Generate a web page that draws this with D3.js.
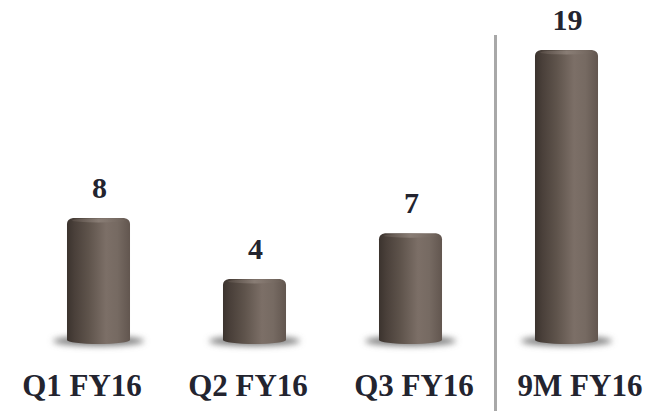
<!DOCTYPE html>
<html>
<head>
<meta charset="utf-8">
<script src="https://cdn.jsdelivr.net/npm/d3@7"></script>
<style>
  body { margin: 0; background: #fff; }
  text { font-family: "Liberation Serif", serif; font-weight: bold; fill: #23242f; }
</style>
</head>
<body>
<script>
const categories = ['Q1 FY16', 'Q2 FY16', 'Q3 FY16', '9M FY16']
const values = [8, 4, 7, 19]
const yMax = 19

const width = 661
const height = 411
const base = 340

const svg = d3.select('body').append('svg')
  .attr('width', width)
  .attr('height', height)

const defs = svg.append('defs')

// cylinder body shading
const body = defs.append('linearGradient').attr('id', 'body')
body.selectAll('stop')
  .data([[0, '#3b332e'], [0.12, '#4a403a'], [0.35, '#5f544c'], [0.62, '#7c6f67'], [0.8, '#766a62'], [1, '#62564f']])
  .enter().append('stop')
  .attr('offset', d => d[0])
  .attr('stop-color', d => d[1])

const cap = defs.append('linearGradient').attr('id', 'cap')
cap.selectAll('stop')
  .data([[0, '#5a4f48'], [0.5, '#8f837b'], [1, '#6e625a']])
  .enter().append('stop')
  .attr('offset', d => d[0])
  .attr('stop-color', d => d[1])

defs.append('filter').attr('id', 'blur')
  .attr('x', '-50%').attr('y', '-100%').attr('width', '200%').attr('height', '300%')
  .append('feGaussianBlur').attr('stdDeviation', 3)

const x = d3.scaleBand()
  .domain(categories)
  .range([20.5, 644.5])
  .paddingInner(0.596)
  .paddingOuter(0.298)

const labelX = d3.scalePoint()
  .domain(categories)
  .range([82, 580])

const y = d3.scaleLinear()
  .domain([0, yMax])
  .range([base, 50])

const bw = x.bandwidth()

const bars = svg.selectAll('.bar')
  .data(categories)
  .enter().append('g')
  .attr('class', 'bar')

// shadow
bars.append('ellipse')
  .attr('cx', d => x(d) + bw / 2)
  .attr('cy', base + 1)
  .attr('rx', bw / 2 + 14)
  .attr('ry', 5)
  .style('fill', '#7a7a7a')
  .attr('filter', 'url(#blur)')

// body with rounded shoulders and curved bottom
bars.append('path')
  .attr('d', (d, i) => {
    const x0 = x(d), x1 = x(d) + bw, top = y(values[i])
    return `M${x0},${base} L${x0},${top + 6} Q${x0},${top + 1} ${x0 + 6},${top}` +
      ` L${x1 - 6},${top} Q${x1},${top + 1} ${x1},${top + 6} L${x1},${base}` +
      ` A${bw / 2},4 0 0 1 ${x0},${base} Z`
  })
  .style('fill', 'url(#body)')

// top highlight
bars.append('ellipse')
  .attr('cx', d => x(d) + bw / 2)
  .attr('cy', (d, i) => y(values[i]) + 2.5)
  .attr('rx', bw / 2 - 5)
  .attr('ry', 2)
  .style('fill', 'url(#cap)')
  .style('opacity', 0.8)

// value labels
svg.selectAll('.value')
  .data(values)
  .enter().append('text')
  .attr('class', 'value')
  .attr('x', (d, i) => x(categories[i]) + bw / 2 + 1)
  .attr('y', d => y(d) - 20)
  .attr('text-anchor', 'middle')
  .style('font-size', '30px')
  .text(d => d)

// category labels
svg.selectAll('.cat')
  .data(categories)
  .enter().append('text')
  .attr('class', 'cat')
  .attr('x', d => labelX(d))
  .attr('y', 396)
  .attr('text-anchor', 'middle')
  .style('font-size', '31px')
  .text(d => d)

// divider between quarters and nine months
svg.append('line')
  .attr('x1', 495.5).attr('x2', 495.5)
  .attr('y1', 35).attr('y2', 411)
  .style('stroke', '#a8a8a8')
  .style('stroke-width', 3)
</script>
</body>
</html>
